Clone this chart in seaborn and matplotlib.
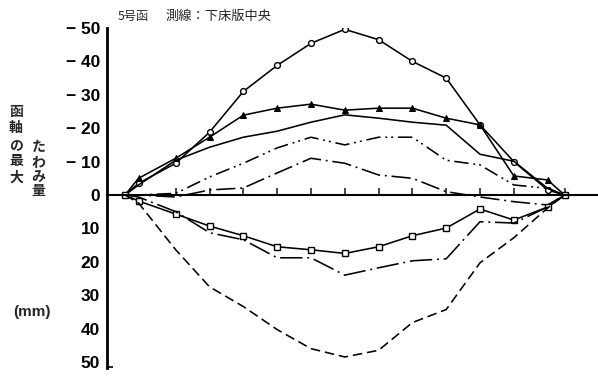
import matplotlib
matplotlib.use("Agg")
import matplotlib.pyplot as plt
from matplotlib.ticker import FixedLocator, FixedFormatter
import pandas as pd
import seaborn as sns

# Measurement stations along the box (span units)
stations = [0, 0.4, 1.5, 2.5, 3.5, 4.5, 5.5, 6.5, 7.5, 8.5, 9.5, 10.5, 11.5, 12.5, 13.0]

# Maximum deflection of the box axis (mm); negative = upward
defl_circle = [0, -3.5, -9.5, -18.8, -31, -38.8, -45.4, -49.6, -46.5, -40, -35, -21, -10, -1.5, 0]
defl_triangle = [0, -5, -11, -17.3, -23.9, -26, -27.2, -25.4, -26, -26, -23, -21, -5.7, -4.5, 0]
defl_plain = [0, -3, -10.4, -14.3, -17.3, -19.1, -21.8, -24, -23, -21.8, -20.9, -12.2, -10.1, -2, 0]
defl_dashdotdot = [0, 0, -0.5, -5.4, -9.5, -14.1, -17.3, -15, -17.3, -17.3, -10.4, -9, -3, -2, 0]
defl_dashdot_up = [0, 0, 0.6, -1.5, -2.1, -6.6, -11, -9.5, -6, -5, -1, 0.6, 2, 3, 0]
defl_square = [0, 1.8, 5.7, 9.3, 12.2, 15.5, 16.4, 17.5, 15.5, 12.2, 9.9, 4.2, 7.5, 3.6, 0]
defl_dashdot_low = [0, 0.6, 5, 11.3, 13.4, 18.8, 18.8, 24, 21.8, 19.7, 19.1, 8, 8.4, 3.6, 0]
defl_dashed = [0, 2.4, 16.4, 27.5, 33.4, 40.3, 46, 48.5, 46.5, 38.2, 34.3, 20.3, 12.8, 3.9, 0]

ytick_values = [-50, -40, -30, -20, -10, 0, 10, 20, 30, 40, 50]
ytick_labels = ["− 50", "− 40", "− 30", "− 20", "− 10", "0", "10", "20", "30", "40", "50"]
xtick_values = [1.5, 2.5, 3.5, 4.5, 5.5, 6.5, 7.5, 8.5, 9.5, 10.5, 11.5, 12.5, 13.0]

title_left = "5号函"
title_right = "測線：下床版中央"
ylabel_col1 = "函軸の最大"
ylabel_col2 = "たわみ量"
unit_label = "(mm)"

sns.set_style("white")
plt.rcParams["font.family"] = ["Liberation Sans", "Noto Sans CJK JP", "DejaVu Sans"]

W, H = 598, 379
fig = plt.figure(figsize=(W / 100, H / 100), dpi=100)
ax = fig.add_axes([107 / W, 1 - 368 / H, 1 - 107 / W, (368 - 28) / H])

series = [
    (defl_circle, dict(linestyle="-", marker="o", markersize=4.2, markerfacecolor="white",
                       markeredgecolor="black", markeredgewidth=1.0)),
    (defl_triangle, dict(linestyle="-", marker="^", markersize=4, markerfacecolor="black",
                         markeredgecolor="black")),
    (defl_plain, dict(linestyle="-")),
    (defl_dashdotdot, dict(linestyle=(0, (9, 3, 1.2, 2.5, 1.2, 3)))),
    (defl_dashdot_up, dict(linestyle=(0, (12, 3, 1.2, 3)))),
    (defl_square, dict(linestyle="-", marker="s", markersize=4.2, markerfacecolor="white",
                       markeredgecolor="black", markeredgewidth=1.0)),
    (defl_dashdot_low, dict(linestyle=(0, (14, 3, 1.2, 3)))),
    (defl_dashed, dict(linestyle=(0, (6, 3)))),
]

for values, style in series:
    df = pd.DataFrame({"station": stations, "deflection": values})
    sns.lineplot(data=df, x="station", y="deflection", ax=ax, color="black",
                 linewidth=1.15, sort=False, **style)

ax.set_xlim(-0.533, 13.99)
ax.set_ylim(51.8, -50)

for side in ("top", "right"):
    ax.spines[side].set_visible(False)
ax.spines["bottom"].set_position(("data", 0))
ax.spines["bottom"].set_linewidth(1.5)
ax.spines["left"].set_linewidth(2.0)
ax.spines["bottom"].set_color("black")
ax.spines["left"].set_color("black")

ax.xaxis.set_major_locator(FixedLocator(xtick_values))
ax.tick_params(axis="x", direction="in", length=5, width=1.2, labelbottom=False, bottom=True)
ax.yaxis.set_major_locator(FixedLocator(ytick_values))
ax.yaxis.set_major_formatter(FixedFormatter(ytick_labels))
ax.yaxis.set_minor_locator(FixedLocator([51.6]))
ax.tick_params(axis="y", which="major", direction="in", length=4, width=1.5, pad=5,
               labelsize=12.5, labelcolor="black")
ax.tick_params(axis="y", which="minor", direction="in", length=4, width=1.5, left=True)
for lbl in ax.get_yticklabels():
    lbl.set_fontweight("bold")
ax.set_xlabel("")
ax.set_ylabel("")

cjk = ["Noto Sans CJK JP", "DejaVu Sans"]
fig.text(118 / W, 1 - 16 / H, title_left, family=cjk, fontsize=8.8, ha="left", va="center")
fig.text(166 / W, 1 - 16 / H, title_right, family=cjk, fontsize=9.5, ha="left", va="center")

for i, ch in enumerate(ylabel_col1):
    fig.text(16 / W, 1 - (112 + 16.3 * i) / H, ch, family=cjk, fontsize=10,
             fontweight="bold", ha="center", va="center")
for i, ch in enumerate(ylabel_col2):
    fig.text(38.5 / W, 1 - (147 + 14.7 * i) / H, ch, family=cjk, fontsize=10,
             fontweight="bold", ha="center", va="center")
fig.text(32 / W, 1 - 312 / H, unit_label, fontsize=11, fontweight="bold",
         ha="center", va="center")

fig.savefig("out.png", dpi=100, facecolor="white")
